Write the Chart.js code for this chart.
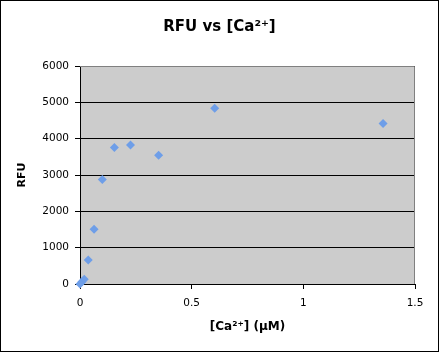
<!DOCTYPE html>
<html>
<head>
<meta charset="utf-8">
<script src="https://cdn.jsdelivr.net/npm/chart.js@4/dist/chart.umd.min.js"></script>
<style>
  html, body { margin: 0; padding: 0; background: #fff; }
  canvas { display: block; }
</style>
</head>
<body>
<canvas id="myChart" width="439" height="352"></canvas>
<script>
// values
var chartTitle = 'RFU vs [Ca\u00B2\u207A]';
var xTitle = '[Ca\u00B2\u207A] (\u00B5M)';
var yTitle = 'RFU';
var calcium = [0, 0.009, 0.019, 0.037, 0.063, 0.1, 0.154, 0.226, 0.352, 0.603, 1.357];
var rfu = [0, 60, 130, 660, 1510, 2875, 3760, 3825, 3545, 4835, 4415];
var xTicks = [0, 0.5, 1, 1.5];
var yTicks = [0, 1000, 2000, 3000, 4000, 5000, 6000];

var points = [];
for (var i = 0; i < calcium.length; i++) {
    points.push({x: calcium[i], y: rfu[i]});
}

var FONT = 'DejaVu Sans, Verdana, sans-serif';

// white page with black frame, gray plot area, title on top
var framePlugin = {
    id: 'frame',
    beforeDraw: function(chart) {
        var c = chart.ctx, a = chart.chartArea;
        c.save();
        c.fillStyle = '#fff';
        c.fillRect(0, 0, chart.width, chart.height);
        c.strokeStyle = '#000';
        c.lineWidth = 1;
        c.strokeRect(0.5, 0.5, chart.width - 1, chart.height - 1);
        c.fillStyle = '#cccccc';
        c.fillRect(a.left, a.top, a.right - a.left, a.bottom - a.top);
        c.fillStyle = '#000';
        c.font = 'bold 15px ' + FONT;
        c.textAlign = 'center';
        c.textBaseline = 'middle';
        c.fillText(chartTitle, chart.width / 2, 27);
        c.restore();
    },
    beforeDatasetsDraw: function(chart) {
        var c = chart.ctx, a = chart.chartArea;
        c.save();
        c.strokeStyle = '#808080';
        c.lineWidth = 1;
        c.beginPath();
        c.moveTo(a.left, a.top + 0.5);
        c.lineTo(a.right - 0.5, a.top + 0.5);
        c.lineTo(a.right - 0.5, a.bottom);
        c.stroke();
        c.restore();
    }
};

const ctx = document.getElementById('myChart').getContext('2d');
const myChart = new Chart(ctx, {
    type: 'scatter',
    data: {
        datasets: [{
            label: 'RFU',
            data: points,
            pointStyle: 'rectRot',
            pointRadius: 4.5,
            backgroundColor: '#6e9ee8',
            borderColor: '#6e9ee8',
            borderWidth: 0,
            clip: false
        }]
    },
    options: {
        responsive: false,
        animation: false,
        layout: { padding: { left: 0, right: 24, top: 66, bottom: 0 } },
        plugins: {
            legend: { display: false },
            tooltip: { enabled: false },
            title: { display: false }
        },
        scales: {
            x: {
                type: 'linear',
                min: 0,
                max: 1.5,
                afterBuildTicks: function(s) { s.ticks = xTicks.map(function(v) { return {value: v}; }); },
                afterFit: function(s) { s.height = 68; },
                ticks: {
                    color: '#000',
                    font: { family: FONT, size: 10.5 },
                    padding: 8,
                    maxRotation: 0,
                    callback: function(v) { return String(v); }
                },
                grid: { drawOnChartArea: false, drawTicks: true, tickLength: 5, tickColor: '#000' },
                border: { color: '#000', width: 1 },
                title: {
                    display: true,
                    text: xTitle,
                    color: '#000',
                    font: { family: FONT, size: 12, weight: 'bold' },
                    padding: { top: 0, bottom: 18 }
                }
            },
            y: {
                min: 0,
                max: 6000,
                afterBuildTicks: function(s) { s.ticks = yTicks.map(function(v) { return {value: v}; }); },
                afterFit: function(s) { s.width = 80; },
                ticks: {
                    color: '#000',
                    font: { family: FONT, size: 10.5 },
                    padding: 6,
                    callback: function(v) { return String(v); }
                },
                grid: { color: '#000', lineWidth: 1, tickLength: 5, tickColor: '#000' },
                border: { color: '#000', width: 1 },
                title: {
                    display: true,
                    text: yTitle,
                    color: '#000',
                    font: { family: FONT, size: 11, weight: 'bold' },
                    padding: { top: 16, bottom: 0 }
                }
            }
        }
    },
    plugins: [framePlugin]
});
</script>
</body>
</html>
